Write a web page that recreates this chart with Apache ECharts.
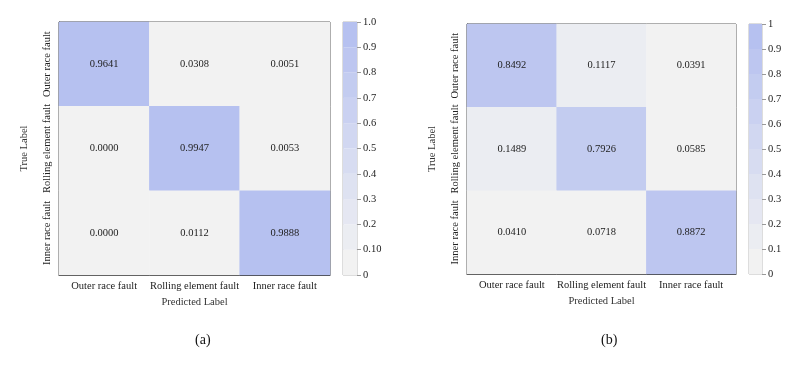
<!DOCTYPE html>
<html>
<head>
<meta charset="utf-8">
<script src="https://cdn.jsdelivr.net/npm/echarts@6/dist/echarts.min.js"></script>
<style>
  html, body { margin: 0; padding: 0; background: #fff; }
  #main { width: 810px; height: 368px; }
</style>
</head>
<body>
<div id="main"></div>
<script>
  // class names
  var classes = ['Outer race fault', 'Rolling element fault', 'Inner race fault'];
  // confusion matrices, rows = true label, cols = predicted label
  var matrixA = [
    [0.9641, 0.0308, 0.0051],
    [0.0000, 0.9947, 0.0053],
    [0.0000, 0.0112, 0.9888]
  ];
  var matrixB = [
    [0.8492, 0.1117, 0.0391],
    [0.1489, 0.7926, 0.0585],
    [0.0410, 0.0718, 0.8872]
  ];
  // colorbar bands and tick labels
  var bands = [0, 0.1, 0.2, 0.3, 0.4, 0.5, 0.6, 0.7, 0.8, 0.9];
  var ticksA = ['0', '0.10', '0.2', '0.3', '0.4', '0.5', '0.6', '0.7', '0.8', '0.9', '1.0'];
  var ticksB = ['0', '0.1', '0.2', '0.3', '0.4', '0.5', '0.6', '0.7', '0.8', '0.9', '1'];

  var font = 'Liberation Serif';
  var fs = 10.5;
  var lo = [242, 242, 242], hi = [182, 193, 240];
  function bandColor(i) {
    var t = i / (bands.length - 1);
    var c = lo.map(function (v, k) { return Math.round(v + (hi[k] - v) * t); });
    return 'rgb(' + c.join(',') + ')';
  }
  var pieces = bands.map(function (b, i) {
    return { gte: b, lt: b + 0.1 + (i === bands.length - 1 ? 0.01 : 0), color: bandColor(i) };
  });

  function toCells(m) {
    var out = [];
    for (var r = 0; r < m.length; r++)
      for (var c = 0; c < m[r].length; c++) out.push([c, r, m[r][c]]);
    return out;
  }

  var grids = [
    { left: 59, right: 480, top: 22, bottom: 93, show: true, borderColor: '#333', borderWidth: 1 },
    { left: 467, right: 74, top: 24, bottom: 94, show: true, borderColor: '#333', borderWidth: 1 },
    { left: 343, width: 14, top: 22, bottom: 93, show: true, borderColor: '#bbb', borderWidth: 1 },
    { left: 749, width: 13, top: 24, bottom: 94, show: true, borderColor: '#bbb', borderWidth: 1 }
  ];

  function matX(gi) {
    return {
      type: 'category', gridIndex: gi, data: classes,
      name: 'Predicted Label', nameLocation: 'middle', nameGap: 22,
      nameTextStyle: { fontFamily: font, fontSize: fs, color: '#333' },
      axisLine: { lineStyle: { color: '#333' } },
      axisTick: { alignWithLabel: true, length: 4, lineStyle: { color: '#333' } },
      axisLabel: { fontFamily: font, fontSize: fs, color: '#222', margin: 6, interval: 0 },
      splitLine: { show: false }
    };
  }
  function matY(gi) {
    return {
      type: 'category', gridIndex: gi, data: classes, inverse: true,
      name: 'True Label', nameLocation: 'middle', nameGap: 29,
      nameTextStyle: { fontFamily: font, fontSize: fs, color: '#333' },
      axisLine: { lineStyle: { color: '#333' } },
      axisTick: { alignWithLabel: true, length: 4, lineStyle: { color: '#333' } },
      axisLabel: { fontFamily: font, fontSize: fs, color: '#222', rotate: 90, margin: 6, interval: 0 },
      splitLine: { show: false }
    };
  }
  function barX(gi) {
    return { type: 'category', gridIndex: gi, data: [''], show: false };
  }
  function barY(gi, labels) {
    return {
      type: 'value', gridIndex: gi, position: 'right', min: 0, max: 1, interval: 0.1,
      axisLine: { show: false },
      axisTick: { show: true, length: 4, inside: false, lineStyle: { color: '#999' } },
      axisLabel: {
        fontFamily: font, fontSize: fs, color: '#222', margin: 6,
        formatter: function (v) { return labels[Math.round(v * 10)]; }
      },
      splitLine: { show: false }
    };
  }

  function heat(xi, m) {
    return {
      type: 'heatmap', xAxisIndex: xi, yAxisIndex: xi, data: toCells(m),
      label: {
        show: true, fontFamily: font, fontSize: fs, color: '#222',
        formatter: function (p) { return p.value[2].toFixed(4); }
      },
      itemStyle: { borderWidth: 0 },
      emphasis: { disabled: true }
    };
  }

  var series = [heat(0, matrixA), heat(1, matrixB)];
  [2, 3].forEach(function (ai) {
    bands.forEach(function (b, i) {
      series.push({
        type: 'bar', xAxisIndex: ai, yAxisIndex: ai, stack: 'cb' + ai,
        data: [0.1], barWidth: '100%', silent: true,
        itemStyle: { color: bandColor(i) }
      });
    });
  });

  var chart = echarts.init(document.getElementById('main'));
  chart.setOption({
    animation: false,
    title: [
      { text: '(a)', left: 190, top: 328, textStyle: { fontFamily: font, fontSize: 14, fontWeight: 'normal', color: '#111' } },
      { text: '(b)', left: 596, top: 328, textStyle: { fontFamily: font, fontSize: 14, fontWeight: 'normal', color: '#111' } }
    ],
    grid: grids,
    xAxis: [matX(0), matX(1), barX(2), barX(3)],
    yAxis: [matY(0), matY(1), barY(2, ticksA), barY(3, ticksB)],
    visualMap: {
      type: 'piecewise', show: false, seriesIndex: [0, 1], dimension: 2,
      pieces: pieces
    },
    series: series
  });
</script>
</body>
</html>
